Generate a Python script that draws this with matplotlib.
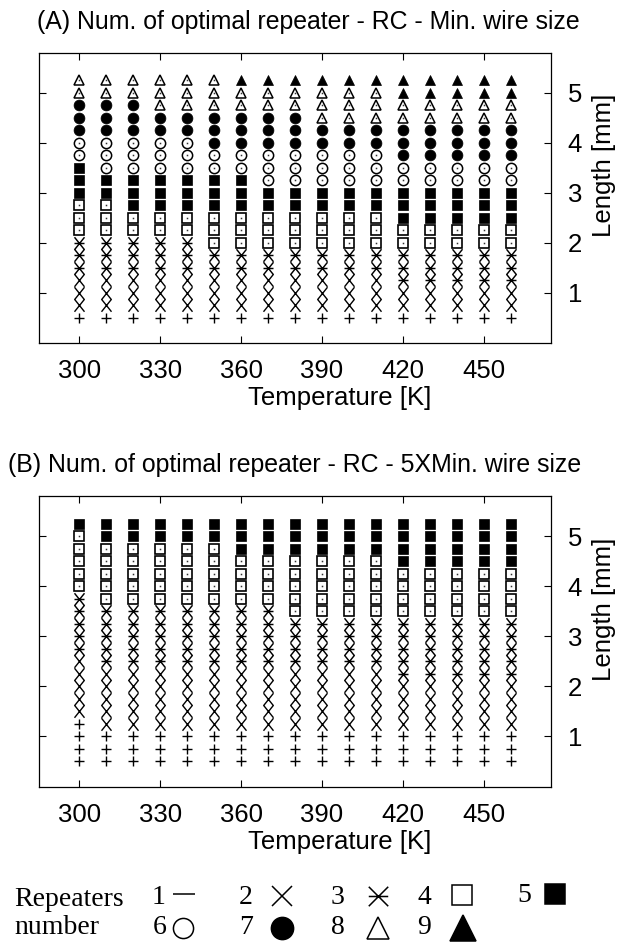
import numpy as np
import matplotlib
matplotlib.use("Agg")
import matplotlib.pyplot as plt
from matplotlib.path import Path

plt.rcParams['font.family'] = ['Liberation Sans', 'DejaVu Sans']

# Temperatures (K) on the x axis and wire lengths (mm) on the y axis
temperatures = [300, 310, 320, 330, 340, 350, 360, 370, 380,
                390, 400, 410, 420, 430, 440, 450, 460]
lengths = [0.5, 0.75, 1.0, 1.25, 1.5, 1.75, 2.0, 2.25, 2.5, 2.75,
           3.0, 3.25, 3.5, 3.75, 4.0, 4.25, 4.5, 4.75, 5.0, 5.25]

# For every temperature: how many consecutive lengths (from the shortest up)
# need 1, 2, 3, ... repeaters.
counts_min_wire = [
    [1, 3, 3, 3, 3, 2, 3, 2, 0],  # 300
    [1, 3, 3, 3, 2, 3, 3, 2, 0],  # 310
    [1, 3, 3, 2, 3, 3, 3, 2, 0],  # 320
    [1, 3, 3, 2, 3, 3, 2, 3, 0],  # 330
    [1, 3, 3, 2, 3, 3, 2, 3, 0],  # 340
    [1, 3, 2, 3, 3, 2, 3, 3, 0],  # 350
    [1, 3, 2, 3, 3, 2, 3, 2, 1],  # 360
    [1, 3, 2, 3, 2, 3, 3, 2, 1],  # 370
    [1, 3, 2, 3, 2, 3, 3, 2, 1],  # 380
    [1, 3, 2, 3, 2, 3, 2, 3, 1],  # 390
    [1, 3, 2, 3, 2, 3, 2, 3, 1],  # 400
    [1, 3, 2, 3, 2, 3, 2, 3, 1],  # 410
    [1, 2, 3, 2, 3, 2, 3, 2, 2],  # 420
    [1, 2, 3, 2, 3, 2, 3, 2, 2],  # 430
    [1, 2, 3, 2, 3, 2, 3, 2, 2],  # 440
    [1, 2, 3, 2, 3, 2, 3, 2, 2],  # 450
    [1, 2, 3, 2, 3, 2, 3, 2, 2],  # 460
]

counts_5x_wire = [
    [4, 5, 5, 5, 1],  # 300
    [3, 5, 5, 5, 2],  # 310
    [3, 5, 5, 5, 2],  # 320
    [3, 5, 5, 5, 2],  # 330
    [3, 5, 5, 5, 2],  # 340
    [3, 5, 5, 5, 2],  # 350
    [3, 5, 5, 4, 3],  # 360
    [3, 5, 5, 4, 3],  # 370
    [3, 5, 4, 5, 3],  # 380
    [3, 5, 4, 5, 3],  # 390
    [3, 5, 4, 5, 3],  # 400
    [3, 5, 4, 5, 3],  # 410
    [3, 4, 5, 4, 4],  # 420
    [3, 4, 5, 4, 4],  # 430
    [3, 4, 5, 4, 4],  # 440
    [3, 4, 5, 4, 4],  # 450
    [3, 4, 5, 4, 4],  # 460
]

panel_titles = ["(A) Num. of optimal repeater - RC - Min. wire size",
                "(B) Num. of optimal repeater - RC - 5XMin. wire size"]
x_ticks = [300, 330, 360, 390, 420, 450]
y_ticks = [1, 2, 3, 4, 5]

# slightly tall cross and six-armed asterisk (cross with a horizontal bar)
tall_cross = Path([(-0.4, -0.5), (0.4, 0.5), (-0.4, 0.5), (0.4, -0.5)],
                  [Path.MOVETO, Path.LINETO, Path.MOVETO, Path.LINETO])
tall_asterisk = Path([(-0.4, -0.5), (0.4, 0.5), (-0.4, 0.5), (0.4, -0.5),
                      (-0.4, 0.0), (0.4, 0.0)],
                     [Path.MOVETO, Path.LINETO, Path.MOVETO, Path.LINETO,
                      Path.MOVETO, Path.LINETO])
asterisk = Path([(-0.5, -0.5), (0.5, 0.5), (-0.5, 0.5), (0.5, -0.5),
                 (-0.5, 0.0), (0.5, 0.0)],
                [Path.MOVETO, Path.LINETO, Path.MOVETO, Path.LINETO,
                 Path.MOVETO, Path.LINETO])

# marker, size (pt), filled, dotted centre, edge width
styles = {
    1: ('+', 7.2, False, False, 1.0),
    2: (tall_cross, 9.0, False, False, 1.0),
    3: (tall_asterisk, 9.0, False, False, 1.05),
    4: ('s', 7.8, False, True, 1.2),
    5: ('s', 7.8, True, False, 0.5),
    6: ('o', 7.4, False, True, 1.1),
    7: ('o', 7.8, True, False, 0.5),
    8: ('^', 7.3, False, True, 1.1),
    9: ('^', 7.3, True, False, 0.5),
}


def grid_points(counts):
    pts = {k: ([], []) for k in range(1, 10)}
    for t, col in zip(temperatures, counts):
        row = 0
        for k, n in enumerate(col, start=1):
            for _ in range(n):
                pts[k][0].append(t)
                pts[k][1].append(lengths[row])
                row += 1
    return pts


W, H = 618, 942
fig = plt.figure(figsize=(W / 100, H / 100), dpi=100)

panel_boxes = [(39, 52.7, 551, 342.5), (39, 496, 551, 786.5)]
title_left = [37, 8]
for (x0, y0, x1, y1), counts, title, tx in zip(panel_boxes,
                                               [counts_min_wire, counts_5x_wire],
                                               panel_titles, title_left):
    ax = fig.add_axes([x0 / W, 1 - y1 / H, (x1 - x0) / W, (y1 - y0) / H])
    pts = grid_points(counts)
    for k, (xs, ys) in pts.items():
        if not xs:
            continue
        m, s, filled, dot, ew = styles[k]
        ax.plot(xs, ys, linestyle='none', marker=m, markersize=s,
                markeredgewidth=ew, markeredgecolor='black',
                markerfacecolor='black' if filled else 'white',
                clip_on=False)
        if dot:
            ax.plot(xs, ys, linestyle='none', marker='s', markersize=1.1,
                    markeredgewidth=0, markerfacecolor='#333333')
    ax.set_xlim(285, 475)
    ax.set_ylim(0, 5.8)
    ax.set_xticks(x_ticks)
    ax.set_yticks(y_ticks)
    ax.tick_params(direction='in', length=5, width=0.8, top=True, bottom=True,
                   left=True, right=True, labelleft=False, labelright=True,
                   labelsize=18.5, pad=12)
    for sp in ax.spines.values():
        sp.set_linewidth(0.9)
    fig.text(tx / W, 1 - (y0 - 30.5) / H, title, ha='left', va='center',
             fontsize=17.9)
    fig.text(340 / W, 1 - (y1 + 55.5) / H, "Temperature [K]", ha='center',
             va='center', fontsize=18.5)
    fig.text(604 / W, 1 - (y0 + 113) / H, "Length [mm]", ha='center',
             va='center', rotation=90, fontsize=18.5)

# key to the repeater-count symbols
key = fig.add_axes([0, 0, 1, 1], facecolor='none')
key.set_xlim(0, W)
key.set_ylim(H, 0)
key.axis('off')
serif = ['Liberation Serif', 'DejaVu Serif']
key.text(14, 899, "Repeaters", family=serif, fontsize=20, ha='left', va='center')
key.text(14, 927, "number", family=serif, fontsize=20, ha='left', va='center')

key_numbers = [1, 2, 3, 4, 5, 6, 7, 8, 9]
key_num_xy = [(159, 897), (246, 897), (338, 897), (424, 897), (524, 896),
              (160, 928), (246, 928), (338, 928), (424, 928)]
key_mark_xy = [(184, 894), (282, 896), (378, 896), (462, 895), (555, 894),
               (183, 928), (282, 928), (378, 928), (463, 928)]
key_styles = {
    1: ('_', 16.0, False), 2: ('x', 14.0, False), 3: (asterisk, 14.0, False),
    4: ('s', 14.5, False), 5: ('s', 14.5, True), 6: ('o', 14.5, False),
    7: ('o', 16.0, True), 8: ('^', 16.0, False), 9: ('^', 19.0, True),
}
for k, (nx, ny), (mx, my) in zip(key_numbers, key_num_xy, key_mark_xy):
    key.text(nx, ny, str(k), family=serif, fontsize=20, ha='center', va='center')
    m, s, filled = key_styles[k]
    key.plot([mx], [my], linestyle='none', marker=m, markersize=s,
             markeredgewidth=1.1, markeredgecolor='black',
             markerfacecolor='black' if filled else 'white')

fig.savefig("out.png", dpi=100)
